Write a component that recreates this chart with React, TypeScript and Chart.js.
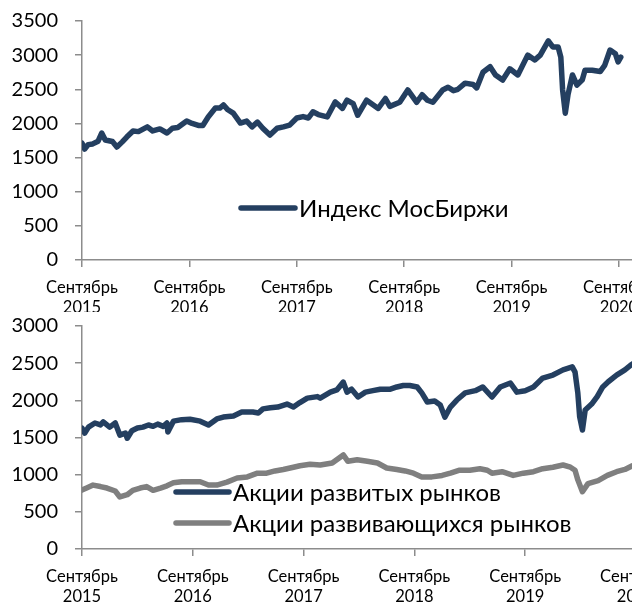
import React, { useEffect, useRef } from 'react';
import { Chart, registerables } from 'chart.js';

Chart.register(...registerables);

// x values are months counted from September 2015
const tickMonthName = 'Сентябрь';
const tickYears = [2015, 2016, 2017, 2018, 2019, 2020];

const moexLabel = 'Индекс МосБиржи';
const moexMonths = [0, 0.3, 0.7, 1.2, 1.8, 2.2, 2.6, 3.4, 3.9, 4.5, 5.0, 5.7, 6.3, 7.3, 7.9, 8.7, 9.5, 10.1, 10.7, 11.7, 12.3, 13.0, 13.5, 14.1, 14.9, 15.4, 15.8, 16.3, 16.9, 17.7, 18.4, 19.0, 19.6, 20.2, 21.0, 21.8, 22.5, 23.2, 24.0, 24.7, 25.3, 25.8, 26.4, 27.4, 28.3, 29.1, 29.6, 30.3, 30.8, 31.8, 33.1, 33.9, 34.4, 35.5, 36.4, 37.4, 38.0, 38.6, 39.2, 40.3, 40.9, 41.5, 42.0, 42.8, 43.7, 44.1, 44.8, 45.6, 46.2, 47.0, 47.8, 48.7, 49.8, 50.6, 51.2, 52.1, 52.6, 53.2, 53.5, 53.7, 54.0, 54.3, 54.8, 55.3, 55.9, 56.2, 57.0, 57.9, 58.4, 59.0, 59.6, 59.9, 60.2];
const moexValues = [1713, 1625, 1690, 1700, 1740, 1860, 1757, 1735, 1655, 1730, 1800, 1890, 1880, 1950, 1890, 1920, 1860, 1930, 1940, 2035, 2000, 1970, 1970, 2095, 2225, 2225, 2270, 2200, 2150, 2005, 2035, 1950, 2020, 1930, 1830, 1930, 1950, 1975, 2080, 2100, 2080, 2170, 2130, 2095, 2315, 2220, 2340, 2290, 2120, 2340, 2220, 2365, 2250, 2310, 2490, 2310, 2420, 2340, 2310, 2490, 2530, 2480, 2500, 2590, 2570, 2520, 2750, 2830, 2710, 2635, 2800, 2710, 3000, 2930, 3000, 3210, 3120, 3120, 2970, 2490, 2150, 2420, 2710, 2560, 2640, 2780, 2780, 2760, 2850, 3075, 3020, 2900, 2970];

const devLabel = 'Акции развитых рынков';
const devMonths = [0, 0.3, 0.7, 1.4, 2.0, 2.3, 3.0, 3.6, 4.1, 4.7, 4.9, 5.4, 6.0, 6.6, 7.2, 7.7, 8.2, 8.8, 9.2, 9.3, 9.9, 10.8, 11.7, 12.8, 13.7, 14.6, 15.3, 16.4, 17.3, 18.5, 19.1, 19.6, 20.4, 21.2, 22.2, 22.9, 23.6, 24.4, 25.5, 25.8, 26.9, 27.6, 28.3, 28.7, 29.2, 29.9, 30.7, 31.5, 32.3, 33.4, 34.1, 34.8, 35.5, 36.3, 36.8, 37.4, 38.2, 38.8, 39.3, 39.9, 40.6, 41.5, 42.6, 43.4, 44.4, 45.3, 46.4, 47.1, 48.0, 48.9, 49.9, 51.0, 52.1, 53.1, 53.4, 53.7, 53.9, 54.2, 54.5, 55.2, 55.8, 56.4, 57.0, 57.9, 58.8, 59.4, 60.0];
const devValues = [1627, 1560, 1640, 1695, 1670, 1710, 1640, 1695, 1533, 1560, 1490, 1590, 1627, 1640, 1668, 1650, 1680, 1650, 1695, 1573, 1720, 1740, 1745, 1720, 1668, 1750, 1775, 1790, 1843, 1843, 1830, 1885, 1900, 1910, 1950, 1910, 1970, 2030, 2050, 2030, 2110, 2140, 2245, 2110, 2150, 2045, 2110, 2130, 2150, 2150, 2180, 2200, 2200, 2180, 2100, 1977, 1990, 1937, 1775, 1910, 2004, 2100, 2130, 2180, 2045, 2180, 2233, 2110, 2130, 2180, 2300, 2340, 2410, 2450, 2380, 2100, 1780, 1600, 1870, 1950, 2050, 2180, 2250, 2340, 2410, 2470, 2520];

const emLabel = 'Акции развивающихся рынков';
const emMonths = [0, 0.5, 1.2, 2.0, 2.7, 3.6, 4.1, 4.9, 5.5, 6.3, 7.0, 7.7, 8.5, 9.2, 9.9, 10.8, 11.9, 12.8, 13.7, 14.6, 15.7, 16.8, 17.9, 19.0, 20.0, 20.9, 21.8, 22.9, 23.6, 24.7, 25.8, 27.1, 28.3, 28.8, 29.8, 30.9, 32.0, 33.0, 34.1, 35.0, 35.9, 36.8, 37.9, 39.0, 39.9, 40.9, 42.0, 43.1, 43.9, 44.4, 45.5, 46.7, 47.8, 48.9, 49.9, 51.0, 52.1, 52.9, 53.4, 53.7, 54.2, 54.8, 55.9, 56.9, 57.9, 58.8, 59.6, 60.0];
const emValues = [793, 820, 860, 840, 820, 780, 700, 730, 790, 820, 840, 790, 820, 850, 890, 905, 905, 905, 860, 860, 900, 955, 970, 1020, 1020, 1050, 1070, 1100, 1120, 1140, 1130, 1157, 1265, 1180, 1200, 1180, 1157, 1090, 1070, 1050, 1020, 970, 970, 990, 1020, 1060, 1060, 1080, 1060, 1020, 1040, 990, 1020, 1040, 1080, 1100, 1130, 1100, 1060, 930, 770, 880, 920, 990, 1040, 1070, 1120, 1140];

const NAVY = '#243F60';
const GREY = '#7F7F7F';
const AXIS = '#8C8C8C';
const FONT = 'Lato, "Open Sans", sans-serif';

const toPoints = (xs: number[], ys: number[]) => xs.map((x, i) => ({ x, y: ys[i] }));

const legendPlugin = {
  id: 'customLegend',
  afterDraw(chart: any, _args: any, opts: any) {
    const ctx = chart.ctx;
    (opts.items || []).forEach((it: any) => {
      ctx.save();
      ctx.strokeStyle = it.color;
      ctx.lineWidth = 5.5;
      ctx.lineCap = 'round';
      ctx.beginPath();
      ctx.moveTo(it.x1, it.y);
      ctx.lineTo(it.x2, it.y);
      ctx.stroke();
      ctx.fillStyle = '#000';
      ctx.font = `24px ${FONT}`;
      ctx.textBaseline = 'middle';
      ctx.textAlign = 'left';
      ctx.fillText(it.text, it.x2 + 4, it.y + 1);
      ctx.restore();
    });
  },
};

function makeOptions(yMax: number, xMax: number, padTop: number, xAxisH: number, legendItems: any[]) {
  return {
    responsive: false,
    maintainAspectRatio: false,
    animation: false,
    layout: { padding: { top: padTop, left: 0, right: 0, bottom: 0 }, autoPadding: false },
    plugins: {
      legend: { display: false },
      tooltip: { enabled: false },
      customLegend: { items: legendItems },
    },
    elements: {
      point: { radius: 0 },
      line: { borderWidth: 5.5, borderJoinStyle: 'round', borderCapStyle: 'round', tension: 0 },
    },
    scales: {
      x: {
        type: 'linear',
        min: 0,
        max: xMax,
        afterBuildTicks: (scale: any) => {
          scale.ticks = tickYears.map((_, i) => ({ value: i * 12 }));
        },
        afterFit: (scale: any) => {
          scale.height = xAxisH;
        },
        border: { color: AXIS, width: 1.5 },
        grid: { drawOnChartArea: false, drawTicks: true, tickLength: 7, color: AXIS, lineWidth: 1.5 },
        ticks: {
          autoSkip: false,
          maxRotation: 0,
          padding: 10,
          color: '#000',
          font: { family: FONT, size: 16.5, lineHeight: 1.25 },
          callback: (v: number) => [tickMonthName, String(tickYears[0] + Math.round(v / 12))],
        },
      },
      y: {
        min: 0,
        max: yMax,
        afterFit: (scale: any) => {
          scale.width = 82;
          scale.paddingTop = 0;
          scale.paddingBottom = 0;
        },
        border: { color: AXIS, width: 1.5 },
        grid: { drawOnChartArea: false, drawTicks: true, tickLength: 7, color: AXIS, lineWidth: 1.5 },
        ticks: {
          stepSize: 500,
          padding: 17,
          color: '#000',
          font: { family: FONT, size: 20 },
          callback: (v: number) => String(v),
        },
      },
    },
  } as any;
}

export default function App() {
  const topRef = useRef<HTMLCanvasElement>(null);
  const botRef = useRef<HTMLCanvasElement>(null);

  useEffect(() => {
    const CW = 700;
    const top = new Chart(topRef.current as HTMLCanvasElement, {
      type: 'line',
      data: {
        datasets: [
          { label: moexLabel, data: toPoints(moexMonths, moexValues), borderColor: NAVY, backgroundColor: NAVY },
        ],
      },
      options: makeOptions(3500, (CW - 82) / 8.95, 21, 52, [
        { text: moexLabel, color: NAVY, x1: 241, x2: 295, y: 208 },
      ]),
      plugins: [legendPlugin],
    } as any);
    const bot = new Chart(botRef.current as HTMLCanvasElement, {
      type: 'line',
      data: {
        datasets: [
          { label: devLabel, data: toPoints(devMonths, devValues), borderColor: NAVY, backgroundColor: NAVY },
          { label: emLabel, data: toPoints(emMonths, emValues), borderColor: GREY, backgroundColor: GREY },
        ],
      },
      options: makeOptions(3000, (CW - 82) / 9.233, 14, 55, [
        { text: devLabel, color: NAVY, x1: 176, x2: 229, y: 180 },
        { text: emLabel, color: GREY, x1: 176, x2: 229, y: 211 },
      ]),
      plugins: [legendPlugin],
    } as any);
    return () => {
      top.destroy();
      bot.destroy();
    };
  }, []);

  return (
    <div
      style={{
        position: 'fixed',
        left: 0,
        top: 0,
        width: 632,
        height: 604,
        overflow: 'hidden',
        background: '#fff',
      }}
    >
      <canvas ref={topRef} width={700} height={312} style={{ position: 'absolute', left: 0, top: 0 }} />
      <canvas ref={botRef} width={700} height={292} style={{ position: 'absolute', left: 0, top: 312 }} />
    </div>
  );
}
